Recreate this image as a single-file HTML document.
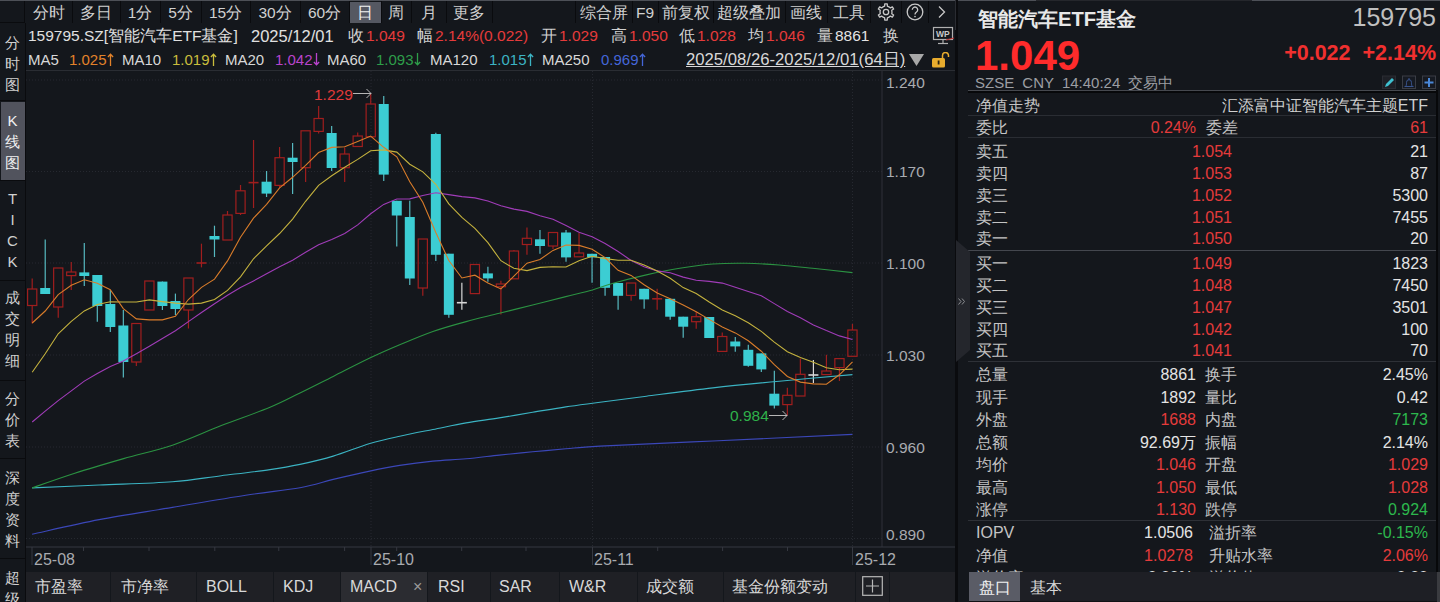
<!DOCTYPE html>
<html><head><meta charset="utf-8">
<style>
*{margin:0;padding:0;box-sizing:border-box}
html,body{width:1440px;height:602px;overflow:hidden;background:#14171c;font-family:"Liberation Sans",sans-serif;color:#d2d2d2}
.a{position:absolute;white-space:nowrap}
.sep{position:absolute;background:#0a0b0e}
.tb{position:absolute;top:1px;height:22px;font-size:15.5px;line-height:23px;text-align:center;color:#d0d0d0}
.sb{position:absolute;left:0;width:25px;font-size:15px;text-align:center;color:#d0d0d0;line-height:21px}
.r{color:#e53b3b}
.info span{margin-left:2px}.g{color:#2db84d}.w{color:#e4e4e4}
.row{position:absolute;left:958px;width:480px;height:22px;font-size:16px;line-height:22px}
.row span{position:absolute;top:0}
.lab{left:18px;color:#c4c4c4}
.bt{position:absolute;top:572px;height:30px;font-size:16px;line-height:30px;color:#d8d8d8;background:#1f2025}
</style></head><body>
<!-- top line -->
<div class="a" style="left:0;top:0;width:1440px;height:1px;background:#4d5057"></div>
<div class="a" style="left:1036px;top:0;width:216px;height:1px;background:#25272c"></div>
<!-- toolbar -->
<div class="a" style="left:0;top:1px;width:25px;height:22px;border-right:1px solid #0a0b0e;border-bottom:1px solid #0a0b0e"></div>
<div class="a" style="left:350px;top:2px;width:31px;height:21px;background:#555862"></div>
<div class="tb" style="left:25px;width:47px">分时</div>
<div class="tb" style="left:72px;width:48px">多日</div>
<div class="tb" style="left:120px;width:40px">1分</div>
<div class="tb" style="left:160px;width:41px">5分</div>
<div class="tb" style="left:201px;width:49px">15分</div>
<div class="tb" style="left:250px;width:50px">30分</div>
<div class="tb" style="left:300px;width:49px">60分</div>
<div class="tb" style="left:349px;width:32px;color:#f0f0f0">日</div>
<div class="tb" style="left:381px;width:30px">周</div>
<div class="tb" style="left:411px;width:35px">月</div>
<div class="tb" style="left:446px;width:46px">更多</div>
<div class="tb" style="left:575px;width:57px">综合屏</div>
<div class="tb" style="left:632px;width:26px">F9</div>
<div class="tb" style="left:658px;width:55px">前复权</div>
<div class="tb" style="left:713px;width:72px">超级叠加</div>
<div class="tb" style="left:785px;width:42px">画线</div>
<div class="tb" style="left:827px;width:43px">工具</div>
<svg class="a" style="left:870px;top:1px" width="86" height="22" viewBox="870 1 86 22">
 <g fill="none" stroke="#c8c8c8" stroke-width="1.3">
  <path stroke-linejoin="round" d="M883.37,6.61 L884.65,6.15 L884.72,3.90 L887.28,3.90 L887.35,6.15 L889.36,7.03 L890.39,7.91 L892.37,6.84 L893.66,9.06 L891.74,10.25 L891.99,12.42 L891.74,13.75 L893.66,14.94 L892.37,17.16 L890.39,16.09 L888.63,17.39 L887.35,17.85 L887.28,20.10 L884.72,20.10 L884.65,17.85 L882.64,16.97 L881.61,16.09 L879.63,17.16 L878.34,14.94 L880.26,13.75 L880.01,11.58 L880.26,10.25 L878.34,9.06 L879.63,6.84 L881.61,7.91z"/>
  <circle cx="886" cy="12" r="2.7"/>
  <circle cx="915" cy="12" r="7.8"/>
  <path d="M912.3,9.8 a2.7,2.7 0 1 1 4.2,2.2 c-1,0.7 -1.5,1.2 -1.5,2.4"/>
  <path d="M939,6.5 l5.5,5.5 -5.5,5.5"/>
 </g>
 <circle cx="915" cy="16.6" r="0.8" fill="#c8c8c8"/>
</svg>
<div class="sep" style="left:72px;top:1px;width:1px;height:22px"></div>
<div class="sep" style="left:120px;top:1px;width:1px;height:22px"></div>
<div class="sep" style="left:160px;top:1px;width:1px;height:22px"></div>
<div class="sep" style="left:201px;top:1px;width:1px;height:22px"></div>
<div class="sep" style="left:250px;top:1px;width:1px;height:22px"></div>
<div class="sep" style="left:300px;top:1px;width:1px;height:22px"></div>
<div class="sep" style="left:349px;top:1px;width:1px;height:22px"></div>
<div class="sep" style="left:381px;top:1px;width:1px;height:22px"></div>
<div class="sep" style="left:411px;top:1px;width:1px;height:22px"></div>
<div class="sep" style="left:446px;top:1px;width:1px;height:22px"></div>
<div class="sep" style="left:492px;top:1px;width:1px;height:22px"></div>
<div class="sep" style="left:575px;top:1px;width:1px;height:22px"></div>
<div class="sep" style="left:632px;top:1px;width:1px;height:22px"></div>
<div class="sep" style="left:658px;top:1px;width:1px;height:22px"></div>
<div class="sep" style="left:713px;top:1px;width:1px;height:22px"></div>
<div class="sep" style="left:785px;top:1px;width:1px;height:22px"></div>
<div class="sep" style="left:827px;top:1px;width:1px;height:22px"></div>
<div class="sep" style="left:870px;top:1px;width:1px;height:22px"></div>
<div class="sep" style="left:901px;top:1px;width:1px;height:22px"></div>
<div class="sep" style="left:928px;top:1px;width:1px;height:22px"></div>

<!-- left sidebar -->
<div class="a" style="left:25px;top:23px;width:1px;height:579px;background:#0a0b0e"></div>
<div class="a" style="left:1px;top:102px;width:24px;height:78px;background:#51535d"></div>
<div class="sep" style="left:0;top:100px;width:25px;height:1px"></div>
<div class="sep" style="left:0;top:180px;width:25px;height:1px"></div>
<div class="sep" style="left:0;top:280px;width:25px;height:1px"></div>
<div class="sep" style="left:0;top:380px;width:25px;height:1px"></div>
<div class="sep" style="left:0;top:458px;width:25px;height:1px"></div>
<div class="sep" style="left:0;top:558px;width:25px;height:1px"></div>
<div class="sb" style="top:32px">分<br>时<br>图</div>
<div class="sb" style="top:110px;color:#f0f0f0">K<br>线<br>图</div>
<div class="sb" style="top:188px">T<br>I<br>C<br>K</div>
<div class="sb" style="top:287px">成<br>交<br>明<br>细</div>
<div class="sb" style="top:388px">分<br>价<br>表</div>
<div class="sb" style="top:467px">深<br>度<br>资<br>料</div>
<div class="sb" style="top:567px">超<br>级</div>

<!-- info row -->
<div class="a" style="left:28px;top:26px;font-size:15.5px;line-height:20px;color:#e0e0e0">159795.SZ[智能汽车ETF基金]</div>
<div class="a" style="left:251px;top:26px;font-size:16.5px;line-height:20px;color:#e0e0e0">2025/12/01</div>
<div style="position:absolute;white-space:nowrap;left:348px;top:26px;font-size:15.5px;line-height:20px;color:#d0d0d0" class="a info">收<span class="r">1.049</span></div>
<div style="position:absolute;white-space:nowrap;left:417px;top:26px;font-size:15.5px;line-height:20px;color:#d0d0d0" class="a info">幅<span class="r">2.14%(0.022)</span></div>
<div style="position:absolute;white-space:nowrap;left:541px;top:26px;font-size:15.5px;line-height:20px;color:#d0d0d0" class="a info">开<span class="r">1.029</span></div>
<div style="position:absolute;white-space:nowrap;left:611px;top:26px;font-size:15.5px;line-height:20px;color:#d0d0d0" class="a info">高<span class="r">1.050</span></div>
<div style="position:absolute;white-space:nowrap;left:679px;top:26px;font-size:15.5px;line-height:20px;color:#d0d0d0" class="a info">低<span class="r">1.028</span></div>
<div style="position:absolute;white-space:nowrap;left:748px;top:26px;font-size:15.5px;line-height:20px;color:#d0d0d0" class="a info">均<span class="r">1.046</span></div>
<div style="position:absolute;white-space:nowrap;left:817px;top:26px;font-size:15.5px;line-height:20px;color:#d0d0d0" class="a info">量<span class="w">8861</span></div>
<div style="position:absolute;white-space:nowrap;left:883px;top:26px;font-size:15.5px;line-height:20px;color:#d0d0d0" class="a info">换</div>
<svg class="a" style="left:930px;top:26px" width="26" height="20" viewBox="0 0 26 20">
 <rect x="3.5" y="1.5" width="19" height="12" fill="none" stroke="#b0b0b0" stroke-width="1.2"/>
 <text x="6" y="11" font-size="8.5" font-weight="bold" fill="#c8c8c8">WP</text>
 <line x1="13" y1="14" x2="13" y2="17" stroke="#b0b0b0" stroke-width="1.2"/>
 <line x1="8" y1="17.5" x2="18" y2="17.5" stroke="#b0b0b0" stroke-width="1.2"/>
 <line x1="16" y1="14" x2="24" y2="12" stroke="#c03030" stroke-width="1"/>
</svg>
<!-- MA row -->
<div class="a" style="left:28px;top:50px;font-size:15px;line-height:20px;color:#d8d8d8">MA5</div>
<div class="a" style="left:69px;top:50px;font-size:15px;line-height:20px;color:#e2822a">1.025<svg width="7" height="13" viewBox="0 0 7 13" style="vertical-align:-1px;margin-left:0.5px"><path d="M3.5,1.2V13M0.9,4L3.5,1.2L6.1,4" fill="none" stroke="currentColor" stroke-width="1.3"/></svg></div>
<div class="a" style="left:122px;top:50px;font-size:15px;line-height:20px;color:#d8d8d8">MA10</div>
<div class="a" style="left:172px;top:50px;font-size:15px;line-height:20px;color:#c9bd3c">1.019<svg width="7" height="13" viewBox="0 0 7 13" style="vertical-align:-1px;margin-left:0.5px"><path d="M3.5,1.2V13M0.9,4L3.5,1.2L6.1,4" fill="none" stroke="currentColor" stroke-width="1.3"/></svg></div>
<div class="a" style="left:225px;top:50px;font-size:15px;line-height:20px;color:#d8d8d8">MA20</div>
<div class="a" style="left:275px;top:50px;font-size:15px;line-height:20px;color:#b944cc">1.042<svg width="7" height="13" viewBox="0 0 7 13" style="vertical-align:-1px;margin-left:0.5px"><path d="M3.5,0V11.8M0.9,9L3.5,11.8L6.1,9" fill="none" stroke="currentColor" stroke-width="1.3"/></svg></div>
<div class="a" style="left:327px;top:50px;font-size:15px;line-height:20px;color:#d8d8d8">MA60</div>
<div class="a" style="left:376px;top:50px;font-size:15px;line-height:20px;color:#2e9e4a">1.093<svg width="7" height="13" viewBox="0 0 7 13" style="vertical-align:-1px;margin-left:0.5px"><path d="M3.5,0V11.8M0.9,9L3.5,11.8L6.1,9" fill="none" stroke="currentColor" stroke-width="1.3"/></svg></div>
<div class="a" style="left:430px;top:50px;font-size:15px;line-height:20px;color:#d8d8d8">MA120</div>
<div class="a" style="left:489px;top:50px;font-size:15px;line-height:20px;color:#3cb4c4">1.015<svg width="7" height="13" viewBox="0 0 7 13" style="vertical-align:-1px;margin-left:0.5px"><path d="M3.5,1.2V13M0.9,4L3.5,1.2L6.1,4" fill="none" stroke="currentColor" stroke-width="1.3"/></svg></div>
<div class="a" style="left:542px;top:50px;font-size:15px;line-height:20px;color:#d8d8d8">MA250</div>
<div class="a" style="left:601px;top:50px;font-size:15px;line-height:20px;color:#4466d8">0.969<svg width="7" height="13" viewBox="0 0 7 13" style="vertical-align:-1px;margin-left:0.5px"><path d="M3.5,1.2V13M0.9,4L3.5,1.2L6.1,4" fill="none" stroke="currentColor" stroke-width="1.3"/></svg></div>
<div class="a" style="left:686px;top:50px;font-size:16.7px;line-height:20px;color:#d8d8d8;text-decoration:underline">2025/08/26-2025/12/01(64日)</div>
<svg class="a" style="left:906px;top:52px" width="50" height="18" viewBox="906 52 50 18">
 <path d="M909,54 h15 l-7.5,12z" fill="#a8a8a8"/>
 <rect x="932" y="58" width="13" height="9.5" rx="1.5" fill="#e8ac2e"/>
 <path d="M942.5,58 v-2.5 a3,3 0 0 1 6,0 v1.5" fill="none" stroke="#e8ac2e" stroke-width="1.5"/>
 <rect x="937.7" y="60.5" width="1.8" height="4" fill="#2a2210"/>
</svg>

<!-- chart -->
<div class="a" style="left:26px;top:70px;width:929px;height:1px;background:#2a2d33"></div>
<svg class="a" style="left:0;top:0" width="960" height="602" viewBox="0 0 960 602" font-family="Liberation Sans, sans-serif">
<line x1="26" y1="80" x2="882" y2="80" stroke="#262930" stroke-width="1" stroke-dasharray="1,2"/>
<line x1="26" y1="171.5" x2="882" y2="171.5" stroke="#262930" stroke-width="1" stroke-dasharray="1,2"/>
<line x1="26" y1="263" x2="882" y2="263" stroke="#262930" stroke-width="1" stroke-dasharray="1,2"/>
<line x1="26" y1="355" x2="882" y2="355" stroke="#262930" stroke-width="1" stroke-dasharray="1,2"/>
<line x1="26" y1="447" x2="882" y2="447" stroke="#262930" stroke-width="1" stroke-dasharray="1,2"/>
<line x1="26" y1="538.5" x2="882" y2="538.5" stroke="#262930" stroke-width="1" stroke-dasharray="1,2"/>
<line x1="371" y1="71" x2="371" y2="547" stroke="#262930" stroke-width="1" stroke-dasharray="1,2"/>
<line x1="592.5" y1="71" x2="592.5" y2="547" stroke="#262930" stroke-width="1" stroke-dasharray="1,2"/>
<line x1="852.5" y1="71" x2="852.5" y2="547" stroke="#262930" stroke-width="1" stroke-dasharray="1,2"/>
<line x1="32.2" y1="278.6" x2="32.2" y2="289" stroke="#a01e1e" stroke-width="1.2"/>
<line x1="32.2" y1="305.5" x2="32.2" y2="323.5" stroke="#a01e1e" stroke-width="1.2"/>
<rect x="27.6" y="289" width="9.2" height="16.5" fill="none" stroke="#a01e1e" stroke-width="1.2"/>
<line x1="45.22" y1="239.5" x2="45.22" y2="294" stroke="#56b9c0" stroke-width="1.2"/>
<rect x="40.22" y="288" width="10" height="6" fill="#3ccdd3"/>
<line x1="58.24" y1="268" x2="58.24" y2="268" stroke="#a01e1e" stroke-width="1.2"/>
<line x1="58.24" y1="307" x2="58.24" y2="317.8" stroke="#a01e1e" stroke-width="1.2"/>
<rect x="53.64" y="268" width="9.2" height="39" fill="none" stroke="#a01e1e" stroke-width="1.2"/>
<line x1="71.26" y1="262" x2="71.26" y2="272" stroke="#a01e1e" stroke-width="1.2"/>
<line x1="71.26" y1="275.6" x2="71.26" y2="290" stroke="#a01e1e" stroke-width="1.2"/>
<rect x="66.66000000000001" y="272" width="9.2" height="3.6000000000000227" fill="none" stroke="#a01e1e" stroke-width="1.2"/>
<line x1="84.28" y1="243" x2="84.28" y2="286" stroke="#56b9c0" stroke-width="1.2"/>
<rect x="79.28" y="272.4" width="10" height="3.6000000000000227" fill="#3ccdd3"/>
<line x1="97.3" y1="275" x2="97.3" y2="321.8" stroke="#56b9c0" stroke-width="1.2"/>
<rect x="92.3" y="275" width="10" height="31" fill="#3ccdd3"/>
<line x1="110.32000000000001" y1="290" x2="110.32000000000001" y2="332" stroke="#56b9c0" stroke-width="1.2"/>
<rect x="105.32000000000001" y="304" width="10" height="23" fill="#3ccdd3"/>
<line x1="123.34" y1="310" x2="123.34" y2="377.6" stroke="#56b9c0" stroke-width="1.2"/>
<rect x="118.34" y="325.5" width="10" height="36.5" fill="#3ccdd3"/>
<line x1="136.36" y1="323.5" x2="136.36" y2="323.5" stroke="#a01e1e" stroke-width="1.2"/>
<line x1="136.36" y1="362" x2="136.36" y2="366" stroke="#a01e1e" stroke-width="1.2"/>
<rect x="131.76000000000002" y="323.5" width="9.2" height="38.5" fill="none" stroke="#a01e1e" stroke-width="1.2"/>
<line x1="149.38" y1="281" x2="149.38" y2="281" stroke="#a01e1e" stroke-width="1.2"/>
<line x1="149.38" y1="310" x2="149.38" y2="310" stroke="#a01e1e" stroke-width="1.2"/>
<rect x="144.78" y="281" width="9.2" height="29" fill="none" stroke="#a01e1e" stroke-width="1.2"/>
<line x1="162.39999999999998" y1="281.6" x2="162.39999999999998" y2="310" stroke="#56b9c0" stroke-width="1.2"/>
<rect x="157.39999999999998" y="281.6" width="10" height="24.399999999999977" fill="#3ccdd3"/>
<line x1="175.42000000000002" y1="293.6" x2="175.42000000000002" y2="315" stroke="#56b9c0" stroke-width="1.2"/>
<rect x="170.42000000000002" y="301" width="10" height="8" fill="#3ccdd3"/>
<line x1="188.44" y1="278" x2="188.44" y2="278" stroke="#a01e1e" stroke-width="1.2"/>
<line x1="188.44" y1="310" x2="188.44" y2="328.5" stroke="#a01e1e" stroke-width="1.2"/>
<rect x="183.84" y="278" width="9.2" height="32" fill="none" stroke="#a01e1e" stroke-width="1.2"/>
<line x1="201.45999999999998" y1="243.7" x2="201.45999999999998" y2="267.4" stroke="#a01e1e" stroke-width="1.2"/>
<line x1="196.45999999999998" y1="263" x2="206.45999999999998" y2="263" stroke="#a01e1e" stroke-width="1.6"/>
<line x1="214.48000000000002" y1="225.7" x2="214.48000000000002" y2="257" stroke="#56b9c0" stroke-width="1.2"/>
<rect x="209.48000000000002" y="236" width="10" height="3.5" fill="#3ccdd3"/>
<line x1="227.5" y1="211" x2="227.5" y2="215" stroke="#a01e1e" stroke-width="1.2"/>
<line x1="227.5" y1="240" x2="227.5" y2="240" stroke="#a01e1e" stroke-width="1.2"/>
<rect x="222.9" y="215" width="9.2" height="25" fill="none" stroke="#a01e1e" stroke-width="1.2"/>
<line x1="240.51999999999998" y1="185" x2="240.51999999999998" y2="190.8" stroke="#a01e1e" stroke-width="1.2"/>
<line x1="240.51999999999998" y1="213.4" x2="240.51999999999998" y2="215" stroke="#a01e1e" stroke-width="1.2"/>
<rect x="235.92" y="190.8" width="9.2" height="22.599999999999994" fill="none" stroke="#a01e1e" stroke-width="1.2"/>
<line x1="253.54000000000002" y1="140" x2="253.54000000000002" y2="208" stroke="#a01e1e" stroke-width="1.2"/>
<line x1="248.54000000000002" y1="182.6" x2="258.54" y2="182.6" stroke="#a01e1e" stroke-width="1.6"/>
<line x1="266.56" y1="171" x2="266.56" y2="197" stroke="#56b9c0" stroke-width="1.2"/>
<rect x="261.56" y="181.7" width="10" height="11.900000000000006" fill="#3ccdd3"/>
<line x1="279.58" y1="147" x2="279.58" y2="157.7" stroke="#a01e1e" stroke-width="1.2"/>
<line x1="279.58" y1="185.4" x2="279.58" y2="187.5" stroke="#a01e1e" stroke-width="1.2"/>
<rect x="274.97999999999996" y="157.7" width="9.2" height="27.700000000000017" fill="none" stroke="#a01e1e" stroke-width="1.2"/>
<line x1="292.59999999999997" y1="143" x2="292.59999999999997" y2="194" stroke="#56b9c0" stroke-width="1.2"/>
<rect x="287.59999999999997" y="157.7" width="10" height="4.300000000000011" fill="#3ccdd3"/>
<line x1="305.62" y1="130.8" x2="305.62" y2="130.8" stroke="#a01e1e" stroke-width="1.2"/>
<line x1="305.62" y1="167.7" x2="305.62" y2="182" stroke="#a01e1e" stroke-width="1.2"/>
<rect x="301.02" y="130.8" width="9.2" height="36.89999999999998" fill="none" stroke="#a01e1e" stroke-width="1.2"/>
<line x1="318.64" y1="106" x2="318.64" y2="118.5" stroke="#a01e1e" stroke-width="1.2"/>
<line x1="318.64" y1="131.4" x2="318.64" y2="133.6" stroke="#a01e1e" stroke-width="1.2"/>
<rect x="314.03999999999996" y="118.5" width="9.2" height="12.900000000000006" fill="none" stroke="#a01e1e" stroke-width="1.2"/>
<line x1="331.65999999999997" y1="126" x2="331.65999999999997" y2="171" stroke="#56b9c0" stroke-width="1.2"/>
<rect x="326.65999999999997" y="133" width="10" height="35" fill="#3ccdd3"/>
<line x1="344.68" y1="147.6" x2="344.68" y2="154" stroke="#a01e1e" stroke-width="1.2"/>
<line x1="344.68" y1="167.7" x2="344.68" y2="182" stroke="#a01e1e" stroke-width="1.2"/>
<rect x="340.08" y="154" width="9.2" height="13.699999999999989" fill="none" stroke="#a01e1e" stroke-width="1.2"/>
<line x1="357.7" y1="132.5" x2="357.7" y2="136" stroke="#a01e1e" stroke-width="1.2"/>
<line x1="357.7" y1="146.5" x2="357.7" y2="146.5" stroke="#a01e1e" stroke-width="1.2"/>
<rect x="353.09999999999997" y="136" width="9.2" height="10.5" fill="none" stroke="#a01e1e" stroke-width="1.2"/>
<line x1="370.71999999999997" y1="93.6" x2="370.71999999999997" y2="104" stroke="#a01e1e" stroke-width="1.2"/>
<line x1="370.71999999999997" y1="136.8" x2="370.71999999999997" y2="136.8" stroke="#a01e1e" stroke-width="1.2"/>
<rect x="366.11999999999995" y="104" width="9.2" height="32.80000000000001" fill="none" stroke="#a01e1e" stroke-width="1.2"/>
<line x1="383.73999999999995" y1="96" x2="383.73999999999995" y2="181" stroke="#56b9c0" stroke-width="1.2"/>
<rect x="378.73999999999995" y="104" width="10" height="70.6" fill="#3ccdd3"/>
<line x1="396.76" y1="200.8" x2="396.76" y2="246.5" stroke="#56b9c0" stroke-width="1.2"/>
<rect x="391.76" y="200.8" width="10" height="14.699999999999989" fill="#3ccdd3"/>
<line x1="409.78" y1="200.8" x2="409.78" y2="285" stroke="#56b9c0" stroke-width="1.2"/>
<rect x="404.78" y="217" width="10" height="61.5" fill="#3ccdd3"/>
<line x1="422.79999999999995" y1="239" x2="422.79999999999995" y2="239" stroke="#a01e1e" stroke-width="1.2"/>
<line x1="422.79999999999995" y1="288" x2="422.79999999999995" y2="295.8" stroke="#a01e1e" stroke-width="1.2"/>
<rect x="418.19999999999993" y="239" width="9.2" height="49" fill="none" stroke="#a01e1e" stroke-width="1.2"/>
<line x1="435.82" y1="132.8" x2="435.82" y2="261" stroke="#56b9c0" stroke-width="1.2"/>
<rect x="430.82" y="134" width="10" height="120.80000000000001" fill="#3ccdd3"/>
<line x1="448.84" y1="253.7" x2="448.84" y2="317.8" stroke="#56b9c0" stroke-width="1.2"/>
<rect x="443.84" y="253.7" width="10" height="61.10000000000002" fill="#3ccdd3"/>
<line x1="461.85999999999996" y1="282.8" x2="461.85999999999996" y2="309.8" stroke="#d8d8d8" stroke-width="1.2"/>
<line x1="456.85999999999996" y1="302.7" x2="466.85999999999996" y2="302.7" stroke="#d8d8d8" stroke-width="1.6"/>
<line x1="474.88" y1="264.5" x2="474.88" y2="264.5" stroke="#a01e1e" stroke-width="1.2"/>
<line x1="474.88" y1="293.6" x2="474.88" y2="293.6" stroke="#a01e1e" stroke-width="1.2"/>
<rect x="470.28" y="264.5" width="9.2" height="29.100000000000023" fill="none" stroke="#a01e1e" stroke-width="1.2"/>
<line x1="487.9" y1="266.8" x2="487.9" y2="281.8" stroke="#56b9c0" stroke-width="1.2"/>
<rect x="482.9" y="273.4" width="10" height="5.0" fill="#3ccdd3"/>
<line x1="500.91999999999996" y1="280.8" x2="500.91999999999996" y2="284" stroke="#a01e1e" stroke-width="1.2"/>
<line x1="500.91999999999996" y1="286.7" x2="500.91999999999996" y2="314.6" stroke="#a01e1e" stroke-width="1.2"/>
<rect x="496.31999999999994" y="284" width="9.2" height="2.6999999999999886" fill="none" stroke="#a01e1e" stroke-width="1.2"/>
<line x1="513.94" y1="250" x2="513.94" y2="251" stroke="#a01e1e" stroke-width="1.2"/>
<line x1="513.94" y1="278.8" x2="513.94" y2="278.8" stroke="#a01e1e" stroke-width="1.2"/>
<rect x="509.34000000000003" y="251" width="9.2" height="27.80000000000001" fill="none" stroke="#a01e1e" stroke-width="1.2"/>
<line x1="526.96" y1="227.5" x2="526.96" y2="238.3" stroke="#a01e1e" stroke-width="1.2"/>
<line x1="526.96" y1="244.5" x2="526.96" y2="254.8" stroke="#a01e1e" stroke-width="1.2"/>
<rect x="522.36" y="238.3" width="9.2" height="6.199999999999989" fill="none" stroke="#a01e1e" stroke-width="1.2"/>
<line x1="539.98" y1="230" x2="539.98" y2="253.8" stroke="#56b9c0" stroke-width="1.2"/>
<rect x="534.98" y="239.3" width="10" height="6.699999999999989" fill="#3ccdd3"/>
<line x1="553.0" y1="232.5" x2="553.0" y2="232.5" stroke="#a01e1e" stroke-width="1.2"/>
<line x1="553.0" y1="246" x2="553.0" y2="249" stroke="#a01e1e" stroke-width="1.2"/>
<rect x="548.4" y="232.5" width="9.2" height="13.5" fill="none" stroke="#a01e1e" stroke-width="1.2"/>
<line x1="566.02" y1="230" x2="566.02" y2="261.8" stroke="#56b9c0" stroke-width="1.2"/>
<rect x="561.02" y="232.5" width="10" height="24.899999999999977" fill="#3ccdd3"/>
<line x1="579.0400000000001" y1="233" x2="579.0400000000001" y2="253" stroke="#a01e1e" stroke-width="1.2"/>
<line x1="579.0400000000001" y1="256.8" x2="579.0400000000001" y2="256.8" stroke="#a01e1e" stroke-width="1.2"/>
<rect x="574.44" y="253" width="9.2" height="3.8000000000000114" fill="none" stroke="#a01e1e" stroke-width="1.2"/>
<line x1="592.0600000000001" y1="253.8" x2="592.0600000000001" y2="282.8" stroke="#56b9c0" stroke-width="1.2"/>
<rect x="587.0600000000001" y="253.8" width="10" height="3.599999999999966" fill="#3ccdd3"/>
<line x1="605.08" y1="257" x2="605.08" y2="295.8" stroke="#56b9c0" stroke-width="1.2"/>
<rect x="600.08" y="257" width="10" height="30.80000000000001" fill="#3ccdd3"/>
<line x1="618.1" y1="283" x2="618.1" y2="309.8" stroke="#56b9c0" stroke-width="1.2"/>
<rect x="613.1" y="283" width="10" height="12.800000000000011" fill="#3ccdd3"/>
<line x1="631.12" y1="283" x2="631.12" y2="283" stroke="#a01e1e" stroke-width="1.2"/>
<line x1="631.12" y1="295.4" x2="631.12" y2="300.8" stroke="#a01e1e" stroke-width="1.2"/>
<rect x="626.52" y="283" width="9.2" height="12.399999999999977" fill="none" stroke="#a01e1e" stroke-width="1.2"/>
<line x1="644.14" y1="288.8" x2="644.14" y2="308.8" stroke="#56b9c0" stroke-width="1.2"/>
<rect x="639.14" y="288.8" width="10" height="10.599999999999966" fill="#3ccdd3"/>
<line x1="657.1600000000001" y1="288.8" x2="657.1600000000001" y2="309.8" stroke="#a01e1e" stroke-width="1.2"/>
<line x1="652.1600000000001" y1="298.8" x2="662.1600000000001" y2="298.8" stroke="#a01e1e" stroke-width="1.6"/>
<line x1="670.1800000000001" y1="298.8" x2="670.1800000000001" y2="319.7" stroke="#56b9c0" stroke-width="1.2"/>
<rect x="665.1800000000001" y="298.8" width="10" height="17.899999999999977" fill="#3ccdd3"/>
<line x1="683.2" y1="316.7" x2="683.2" y2="337.7" stroke="#56b9c0" stroke-width="1.2"/>
<rect x="678.2" y="316.7" width="10" height="10.0" fill="#3ccdd3"/>
<line x1="696.22" y1="311.8" x2="696.22" y2="316.7" stroke="#a01e1e" stroke-width="1.2"/>
<line x1="696.22" y1="321.7" x2="696.22" y2="328.7" stroke="#a01e1e" stroke-width="1.2"/>
<rect x="691.62" y="316.7" width="9.2" height="5.0" fill="none" stroke="#a01e1e" stroke-width="1.2"/>
<line x1="709.24" y1="317" x2="709.24" y2="338" stroke="#56b9c0" stroke-width="1.2"/>
<rect x="704.24" y="317" width="10" height="21" fill="#3ccdd3"/>
<line x1="722.26" y1="332.5" x2="722.26" y2="336.5" stroke="#a01e1e" stroke-width="1.2"/>
<line x1="722.26" y1="351.4" x2="722.26" y2="351.4" stroke="#a01e1e" stroke-width="1.2"/>
<rect x="717.66" y="336.5" width="9.2" height="14.899999999999977" fill="none" stroke="#a01e1e" stroke-width="1.2"/>
<line x1="735.28" y1="337" x2="735.28" y2="351.8" stroke="#56b9c0" stroke-width="1.2"/>
<rect x="730.28" y="341.5" width="10" height="4.899999999999977" fill="#3ccdd3"/>
<line x1="748.3000000000001" y1="344.8" x2="748.3000000000001" y2="366.8" stroke="#56b9c0" stroke-width="1.2"/>
<rect x="743.3000000000001" y="349.8" width="10" height="16.0" fill="#3ccdd3"/>
<line x1="761.32" y1="353.4" x2="761.32" y2="372" stroke="#56b9c0" stroke-width="1.2"/>
<rect x="756.32" y="353.4" width="10" height="16.0" fill="#3ccdd3"/>
<line x1="774.34" y1="370.8" x2="774.34" y2="408.6" stroke="#56b9c0" stroke-width="1.2"/>
<rect x="769.34" y="393.7" width="10" height="11.900000000000034" fill="#3ccdd3"/>
<line x1="787.36" y1="387.7" x2="787.36" y2="395.3" stroke="#a01e1e" stroke-width="1.2"/>
<line x1="787.36" y1="404.6" x2="787.36" y2="415.6" stroke="#a01e1e" stroke-width="1.2"/>
<rect x="782.76" y="395.3" width="9.2" height="9.300000000000011" fill="none" stroke="#a01e1e" stroke-width="1.2"/>
<line x1="800.38" y1="358.6" x2="800.38" y2="374.3" stroke="#a01e1e" stroke-width="1.2"/>
<line x1="800.38" y1="396" x2="800.38" y2="396" stroke="#a01e1e" stroke-width="1.2"/>
<rect x="795.78" y="374.3" width="9.2" height="21.69999999999999" fill="none" stroke="#a01e1e" stroke-width="1.2"/>
<line x1="813.4" y1="360" x2="813.4" y2="383" stroke="#d8d8d8" stroke-width="1.2"/>
<line x1="808.4" y1="375" x2="818.4" y2="375" stroke="#d8d8d8" stroke-width="1.6"/>
<line x1="826.4200000000001" y1="354.8" x2="826.4200000000001" y2="371" stroke="#a01e1e" stroke-width="1.2"/>
<line x1="826.4200000000001" y1="374.6" x2="826.4200000000001" y2="374.6" stroke="#a01e1e" stroke-width="1.2"/>
<rect x="821.82" y="371" width="9.2" height="3.6000000000000227" fill="none" stroke="#a01e1e" stroke-width="1.2"/>
<line x1="839.44" y1="358.6" x2="839.44" y2="358.6" stroke="#a01e1e" stroke-width="1.2"/>
<line x1="839.44" y1="367.6" x2="839.44" y2="381" stroke="#a01e1e" stroke-width="1.2"/>
<rect x="834.84" y="358.6" width="9.2" height="9.0" fill="none" stroke="#a01e1e" stroke-width="1.2"/>
<line x1="852.46" y1="324" x2="852.46" y2="330" stroke="#a01e1e" stroke-width="1.2"/>
<line x1="852.46" y1="356.3" x2="852.46" y2="356.3" stroke="#a01e1e" stroke-width="1.2"/>
<rect x="847.86" y="330" width="9.2" height="26.30000000000001" fill="none" stroke="#a01e1e" stroke-width="1.2"/>
<path fill="none" stroke="#3b47b8" stroke-width="1.1" d="M32.1,534.2 C43.3,531.8 75.8,524.1 99.2,519.6 C122.6,515.1 148.0,511.5 172.4,507.4 C196.8,503.3 224.4,498.5 245.7,495.2 C267.0,491.9 285.4,490.3 300.0,487.7 C314.6,485.1 321.6,482.2 333.2,479.4 C344.8,476.6 358.7,473.4 369.8,471.1 C380.9,468.8 389.2,467.1 399.7,465.4 C410.2,463.7 421.8,462.2 432.9,461.1 C444.0,460.0 455.0,459.8 466.1,458.8 C477.2,457.8 488.2,456.3 499.3,455.1 C510.4,453.9 521.5,452.9 532.6,451.8 C543.7,450.8 554.6,449.8 565.8,448.8 C577.0,447.9 575.5,447.4 600.0,446.1 C624.5,444.8 670.8,442.9 712.9,441.0 C755.0,439.1 829.1,435.5 852.4,434.4"/>
<path fill="none" stroke="#3bb3c2" stroke-width="1.1" d="M32.1,487.9 C43.3,487.4 75.8,486.0 99.2,485.0 C122.6,484.0 152.1,483.4 172.4,481.8 C192.8,480.2 205.0,477.7 221.3,475.7 C237.6,473.7 256.9,471.5 270.0,469.6 C283.1,467.7 289.5,466.6 300.0,464.4 C310.5,462.1 321.6,459.6 333.2,456.1 C344.8,452.6 358.7,446.8 369.8,443.5 C380.9,440.2 389.2,438.5 399.7,436.2 C410.2,433.9 421.8,431.7 432.9,429.5 C444.0,427.3 455.0,424.8 466.1,422.9 C477.2,421.0 488.2,419.7 499.3,417.9 C510.4,416.1 521.5,414.1 532.6,412.3 C543.7,410.5 554.6,408.6 565.8,406.9 C577.0,405.2 586.6,404.1 600.0,402.3 C613.4,400.5 627.6,398.6 646.4,396.2 C665.2,393.8 690.8,390.4 712.9,387.9 C735.0,385.4 756.0,383.4 779.3,381.2 C802.5,379.0 840.2,375.7 852.4,374.6"/>
<path fill="none" stroke="#2b9242" stroke-width="1.1" d="M32.1,487.9 C39.2,485.4 59.5,478.1 74.8,473.2 C90.0,468.3 107.3,463.3 123.6,458.6 C139.9,453.9 156.1,450.7 172.4,445.2 C188.7,439.7 205.0,431.9 221.3,425.6 C237.6,419.3 256.9,412.7 270.0,407.3 C283.1,401.9 289.5,398.1 300.0,393.0 C310.5,387.9 321.6,382.2 333.2,376.4 C344.8,370.6 358.7,363.4 369.8,358.1 C380.9,352.8 389.2,349.2 399.7,344.8 C410.2,340.4 421.8,335.4 432.9,331.5 C444.0,327.6 455.0,324.6 466.1,321.6 C477.2,318.6 488.2,316.1 499.3,313.3 C510.4,310.5 521.5,307.8 532.6,305.0 C543.7,302.2 555.8,299.1 565.8,296.6 C575.8,294.1 584.5,292.2 592.4,290.0 C600.3,287.8 604.2,285.7 613.2,283.2 C622.2,280.7 635.3,277.4 646.4,274.9 C657.5,272.4 668.6,270.1 679.7,268.3 C690.8,266.5 701.8,264.8 712.9,264.0 C724.0,263.2 735.0,263.1 746.1,263.3 C757.2,263.5 768.2,264.2 779.3,265.0 C790.4,265.8 800.4,267.0 812.6,268.3 C824.8,269.6 845.8,271.9 852.4,272.6"/>
<polyline fill="none" stroke="#a03cb8" stroke-width="1.1" points="32.2,422.0 45.2,411.2 58.2,400.6 71.3,390.9 84.3,381.1 97.3,373.6 110.3,366.4 123.3,361.1 136.4,353.8 149.4,346.3 162.4,338.5 175.4,330.7 188.4,321.6 201.5,312.5 214.5,303.8 227.5,295.3 240.5,287.6 253.5,280.9 266.6,273.8 279.6,266.7 292.6,260.3 305.6,252.2 318.6,244.7 331.7,239.5 344.7,233.4 357.7,224.9 370.7,213.8 383.7,204.4 396.8,199.0 409.8,198.9 422.8,195.5 435.8,192.8 448.8,194.6 461.9,196.6 474.9,197.9 487.9,201.0 500.9,205.7 513.9,209.1 527.0,211.4 540.0,215.8 553.0,219.3 566.0,225.6 579.0,232.3 592.1,236.8 605.1,243.5 618.1,251.5 631.1,260.4 644.1,266.7 657.2,270.9 670.2,272.8 683.2,277.1 696.2,280.2 709.2,281.4 722.3,283.1 735.3,287.2 748.3,291.6 761.3,295.8 774.3,303.6 787.4,311.4 800.4,317.8 813.4,324.9 826.4,330.6 839.4,335.9 852.5,339.5"/>
<polyline fill="none" stroke="#c4b23e" stroke-width="1.1" points="32.2,372.2 45.2,353.7 58.2,333.8 71.3,321.3 84.3,310.9 97.3,304.4 110.3,301.7 123.3,302.0 136.4,302.0 149.4,299.9 162.4,301.6 175.4,303.1 188.4,304.1 201.5,303.1 214.5,299.5 227.5,290.4 240.5,276.8 253.5,258.8 266.6,245.8 279.6,233.5 292.6,219.1 305.6,201.3 318.6,185.3 331.7,175.8 344.7,167.3 357.7,159.4 370.7,150.7 383.7,149.9 396.8,152.1 409.8,164.2 422.8,171.9 435.8,184.3 448.8,203.9 461.9,217.4 474.9,228.4 487.9,242.7 500.9,260.7 513.9,268.3 527.0,270.6 540.0,267.4 553.0,266.7 566.0,267.0 579.0,260.8 592.1,256.2 605.1,258.6 618.1,260.3 631.1,260.2 644.1,265.1 657.2,271.1 670.2,278.2 683.2,287.6 696.2,293.5 709.2,302.0 722.3,309.9 735.3,315.8 748.3,322.8 761.3,331.4 774.3,342.1 787.4,351.7 800.4,357.5 813.4,362.3 826.4,367.7 839.4,369.8 852.5,369.1"/>
<polyline fill="none" stroke="#d97c2a" stroke-width="1.1" points="32.2,323.0 45.2,311.0 58.2,294.6 71.3,285.3 84.3,279.8 97.3,283.2 110.3,289.8 123.3,308.6 136.4,318.9 149.4,319.9 162.4,319.9 175.4,316.3 188.4,299.5 201.5,287.4 214.5,279.1 227.5,260.9 240.5,237.3 253.5,218.2 266.6,204.3 279.6,187.9 292.6,177.3 305.6,165.3 318.6,152.5 331.7,147.4 344.7,146.7 357.7,141.5 370.7,136.1 383.7,147.3 396.8,156.8 409.8,181.7 422.8,202.3 435.8,232.5 448.8,260.5 461.9,278.0 474.9,275.2 487.9,283.0 500.9,288.9 513.9,276.1 527.0,263.2 540.0,259.5 553.0,250.4 566.0,245.0 579.0,245.4 592.1,249.3 605.1,257.6 618.1,270.3 631.1,275.4 644.1,284.7 657.2,293.0 670.2,298.7 683.2,304.9 696.2,311.7 709.2,319.4 722.3,326.9 735.3,332.9 748.3,340.7 761.3,351.2 774.3,364.7 787.4,376.5 800.4,382.1 813.4,383.9 826.4,384.2 839.4,374.8 852.5,361.8"/>
<text x="314" y="99.5" fill="#e03a3a" font-size="15.5">1.229</text>
<line x1="353" y1="93.5" x2="371" y2="93.5" stroke="#c8c8c8" stroke-width="0.9"/><polyline points="366.5,89 371,93.5 366.5,98" fill="none" stroke="#c8c8c8" stroke-width="0.9"/>
<text x="730" y="420.5" fill="#2fb24a" font-size="15.5">0.984</text>
<line x1="769" y1="415.5" x2="787" y2="415.5" stroke="#c8c8c8" stroke-width="0.9"/><polyline points="782.5,411 787,415.5 782.5,420" fill="none" stroke="#c8c8c8" stroke-width="0.9"/>
<line x1="882" y1="71" x2="882" y2="547" stroke="#2e3138" stroke-width="1"/>
<text x="886" y="88.1" fill="#a9abb0" font-size="15.5">1.240</text>
<text x="886" y="177.1" fill="#a9abb0" font-size="15.5">1.170</text>
<text x="886" y="268.6" fill="#a9abb0" font-size="15.5">1.100</text>
<text x="886" y="360.6" fill="#a9abb0" font-size="15.5">1.030</text>
<text x="886" y="452.6" fill="#a9abb0" font-size="15.5">0.960</text>
<text x="886" y="539.6" fill="#a9abb0" font-size="15.5">0.890</text>
<line x1="26" y1="547" x2="955" y2="547" stroke="#353840" stroke-width="1.2"/>
<line x1="83.5" y1="547" x2="83.5" y2="551" stroke="#353840" stroke-width="1"/>
<line x1="149" y1="547" x2="149" y2="551" stroke="#353840" stroke-width="1"/>
<line x1="214.8" y1="547" x2="214.8" y2="551" stroke="#353840" stroke-width="1"/>
<line x1="278.75" y1="547" x2="278.75" y2="551" stroke="#353840" stroke-width="1"/>
<line x1="344.6" y1="547" x2="344.6" y2="551" stroke="#353840" stroke-width="1"/>
<line x1="396.7" y1="547" x2="396.7" y2="551" stroke="#353840" stroke-width="1"/>
<line x1="461.7" y1="547" x2="461.7" y2="551" stroke="#353840" stroke-width="1"/>
<line x1="526" y1="547" x2="526" y2="551" stroke="#353840" stroke-width="1"/>
<line x1="657.7" y1="547" x2="657.7" y2="551" stroke="#353840" stroke-width="1"/>
<line x1="722.6" y1="547" x2="722.6" y2="551" stroke="#353840" stroke-width="1"/>
<line x1="787.5" y1="547" x2="787.5" y2="551" stroke="#353840" stroke-width="1"/>
<line x1="32" y1="547" x2="32" y2="565" stroke="#353840" stroke-width="1"/>
<line x1="371" y1="547" x2="371" y2="565" stroke="#353840" stroke-width="1"/>
<line x1="592.5" y1="547" x2="592.5" y2="565" stroke="#353840" stroke-width="1"/>
<line x1="852.5" y1="547" x2="852.5" y2="565" stroke="#353840" stroke-width="1"/>
<text x="34" y="565" fill="#a9abb0" font-size="16">25-08</text>
<text x="373" y="565" fill="#a9abb0" font-size="16">25-10</text>
<text x="594" y="565" fill="#a9abb0" font-size="16">25-11</text>
<text x="855" y="565" fill="#a9abb0" font-size="16">25-12</text>
</svg>

<!-- bottom tabs -->
<div class="bt" style="left:26px;width:84px;padding-left:9px">市盈率</div>
<div class="bt" style="left:111px;width:85px;padding-left:10px">市净率</div>
<div class="bt" style="left:197px;width:76px;padding-left:9px">BOLL</div>
<div class="bt" style="left:274px;width:66px;padding-left:9px">KDJ</div>
<div class="bt" style="left:341px;width:86px;padding-left:9px;background:#2b2c31">MACD<span style="position:absolute;left:72px;color:#9a9a9a">×</span></div>
<div class="bt" style="left:428px;width:62px;padding-left:10px">RSI</div>
<div class="bt" style="left:491px;width:68px;padding-left:8px">SAR</div>
<div class="bt" style="left:560px;width:77px;padding-left:9px">W&amp;R</div>
<div class="bt" style="left:638px;width:85px;padding-left:8px">成交额</div>
<div class="bt" style="left:724px;width:131px;padding-left:8px">基金份额变动</div>
<div class="bt" style="left:856px;width:33px"></div>
<div class="bt" style="left:890px;width:65px"></div>
<svg class="a" style="left:862px;top:576px" width="21" height="20" viewBox="0 0 21 20"><rect x="0.7" y="0.7" width="19.6" height="18.6" fill="none" stroke="#b8b8b8" stroke-width="1.2"/><path d="M10.5,3.5v13M4,10h13" stroke="#b8b8b8" stroke-width="1.2"/></svg>

<!-- panel divider -->
<div class="a" style="left:955px;top:0;width:3px;height:602px;background:#0a0b0e"></div>
<div class="a" style="left:955px;top:0;width:1px;height:30px;background:#2a2c32"></div>

<!-- right panel -->
<div class="a" style="left:978px;top:6px;font-size:20.2px;line-height:26px;font-weight:bold;color:#e8e8e8">智能汽车ETF基金</div>
<div class="a" style="left:1300px;top:3px;width:136px;text-align:right;font-size:25px;line-height:28px;color:#c0c0c0">159795</div>
<div class="a" style="left:975px;top:34px;font-size:42px;line-height:44px;font-weight:bold;color:#ff2b2b">1.049</div>
<div class="a" style="left:1200px;top:42px;width:236px;text-align:right;font-size:21.5px;line-height:22px;font-weight:bold;color:#f0302f">+0.022&nbsp;&nbsp;+2.14%</div>
<div class="a" style="left:975px;top:74px;font-size:15px;line-height:18px;color:#9c9ea3;word-spacing:4px">SZSE CNY 14:40:24 交易中</div>
<svg class="a" style="left:1380px;top:74px" width="58" height="16" viewBox="1380 74 58 16">
 <rect x="1382.5" y="76" width="13" height="12.5" fill="#1e2026" stroke="#2a2c33" stroke-width="1"/>
 <path d="M1385,87 l1,-3 6,-6 2,2 -6,6z" fill="#3ec0d0"/>
 <rect x="1402.5" y="76" width="13" height="12.5" fill="#161a22" stroke="#3a3d45" stroke-width="1"/>
 <path d="M1404.5,86.5 h9 M1405.5,86.5 c1,-1 1,-2 1,-4 a2.5,2.8 0 0 1 5,0 c0,2 0,3 1,4 M1409,78 v2" fill="none" stroke="#3a5590" stroke-width="1"/>
 <rect x="1422.5" y="76" width="13" height="12.5" fill="#161a22" stroke="#3a3d45" stroke-width="1"/>
 <path d="M1429,78v9M1424.5,82.5h9" stroke="#4a88d8" stroke-width="2"/>
</svg>
<div class="a" style="left:968px;top:90px;width:468px;height:1px;background:#46494f"></div>
<div class="a" style="left:968px;top:91px;width:468px;height:2px;background:#07080a"></div>
<div class="a" style="left:1436px;top:90px;width:2px;height:482px;background:#07080a"></div>

<div class="row" style="top:95px"><span class="lab">净值走势</span><span style="right:10px;color:#d0d0d0">汇添富中证智能汽车主题ETF</span></div>
<div class="a" style="left:968px;top:115px;width:468px;height:1px;background:#2a2d33"></div>
<div class="row" style="top:117px"><span class="lab">委比</span><span class="r" style="right:242px">0.24%</span><span class="lab" style="left:248px">委差</span><span class="r" style="right:10px">61</span></div>
<div class="a" style="left:968px;top:137px;width:468px;height:1px;background:#2a2d33"></div>

<div class="row" style="top:141px"><span class="lab">卖五</span><span class="r" style="right:206px">1.054</span><span class="w" style="right:10px">21</span></div>
<div class="row" style="top:163px"><span class="lab">卖四</span><span class="r" style="right:206px">1.053</span><span class="w" style="right:10px">87</span></div>
<div class="row" style="top:185px"><span class="lab">卖三</span><span class="r" style="right:206px">1.052</span><span class="w" style="right:10px">5300</span></div>
<div class="row" style="top:207px"><span class="lab">卖二</span><span class="r" style="right:206px">1.051</span><span class="w" style="right:10px">7455</span></div>
<div class="row" style="top:228px"><span class="lab">卖一</span><span class="r" style="right:206px">1.050</span><span class="w" style="right:10px">20</span></div>
<div class="a" style="left:968px;top:250px;width:468px;height:1px;background:#44474e"></div>
<div class="row" style="top:253px"><span class="lab">买一</span><span class="r" style="right:206px">1.049</span><span class="w" style="right:10px">1823</span></div>
<div class="row" style="top:275px"><span class="lab">买二</span><span class="r" style="right:206px">1.048</span><span class="w" style="right:10px">7450</span></div>
<div class="row" style="top:297px"><span class="lab">买三</span><span class="r" style="right:206px">1.047</span><span class="w" style="right:10px">3501</span></div>
<div class="row" style="top:319px"><span class="lab">买四</span><span class="r" style="right:206px">1.042</span><span class="w" style="right:10px">100</span></div>
<div class="row" style="top:340px"><span class="lab">买五</span><span class="r" style="right:206px">1.041</span><span class="w" style="right:10px">70</span></div>
<div class="a" style="left:968px;top:361px;width:468px;height:1px;background:#2e3137"></div>
<svg class="a" style="left:955px;top:238px" width="16" height="126" viewBox="955 238 16 126">
 <path d="M956,240 L970,252 L970,350 L956,362z" fill="#24262c"/>
 <path d="M958.5,298.5 l2.5,3 -2.5,3 M962,298.5 l2.5,3 -2.5,3" fill="none" stroke="#8a8c90" stroke-width="1"/>
</svg>

<div class="row" style="top:364px"><span class="lab">总量</span><span class="w" style="right:242px">8861</span><span class="lab" style="left:247px">换手</span><span class="w" style="right:10px">2.45%</span></div>
<div class="row" style="top:386.5px"><span class="lab">现手</span><span class="w" style="right:242px">1892</span><span class="lab" style="left:247px">量比</span><span class="w" style="right:10px">0.42</span></div>
<div class="row" style="top:409px"><span class="lab">外盘</span><span class="r" style="right:242px">1688</span><span class="lab" style="left:247px">内盘</span><span class="g" style="right:10px">7173</span></div>
<div class="row" style="top:431.5px"><span class="lab">总额</span><span class="w" style="right:242px">92.69万</span><span class="lab" style="left:247px">振幅</span><span class="w" style="right:10px">2.14%</span></div>
<div class="row" style="top:454px"><span class="lab">均价</span><span class="r" style="right:242px">1.046</span><span class="lab" style="left:247px">开盘</span><span class="r" style="right:10px">1.029</span></div>
<div class="row" style="top:476.5px"><span class="lab">最高</span><span class="r" style="right:242px">1.050</span><span class="lab" style="left:247px">最低</span><span class="r" style="right:10px">1.028</span></div>
<div class="row" style="top:499px"><span class="lab">涨停</span><span class="r" style="right:242px">1.130</span><span class="lab" style="left:247px">跌停</span><span class="g" style="right:10px">0.924</span></div>
<div class="a" style="left:968px;top:520px;width:468px;height:1px;background:#2e3137"></div>
<div class="row" style="top:522px"><span class="lab">IOPV</span><span class="w" style="right:245px">1.0506</span><span class="lab" style="left:251px">溢折率</span><span class="g" style="right:10px">-0.15%</span></div>
<div class="row" style="top:544.5px"><span class="lab">净值</span><span class="r" style="right:245px">1.0278</span><span class="lab" style="left:251px">升贴水率</span><span class="r" style="right:10px">2.06%</span></div>
<div class="row" style="top:567px"><span class="lab">溢价率</span><span class="w" style="right:245px">0.00%</span><span class="lab" style="left:251px">溢价值</span><span class="w" style="right:10px">0.00</span></div>

<div class="a" style="left:969px;top:572px;width:468px;height:30px;background:#1e1f25"></div>
<div class="a" style="left:969px;top:601px;width:468px;height:1px;background:#111215"></div>
<div class="a" style="left:969px;top:572px;width:51px;height:29px;background:#5a5c66;color:#f0f0f0;font-size:16px;line-height:31px;text-align:center">盘口</div>
<div class="a" style="left:1030px;top:572px;font-size:16px;line-height:31px;color:#d8d8d8">基本</div>
<div class="a" style="left:1437px;top:572px;width:3px;height:30px;background:#3a3b40"></div>
</body></html>
